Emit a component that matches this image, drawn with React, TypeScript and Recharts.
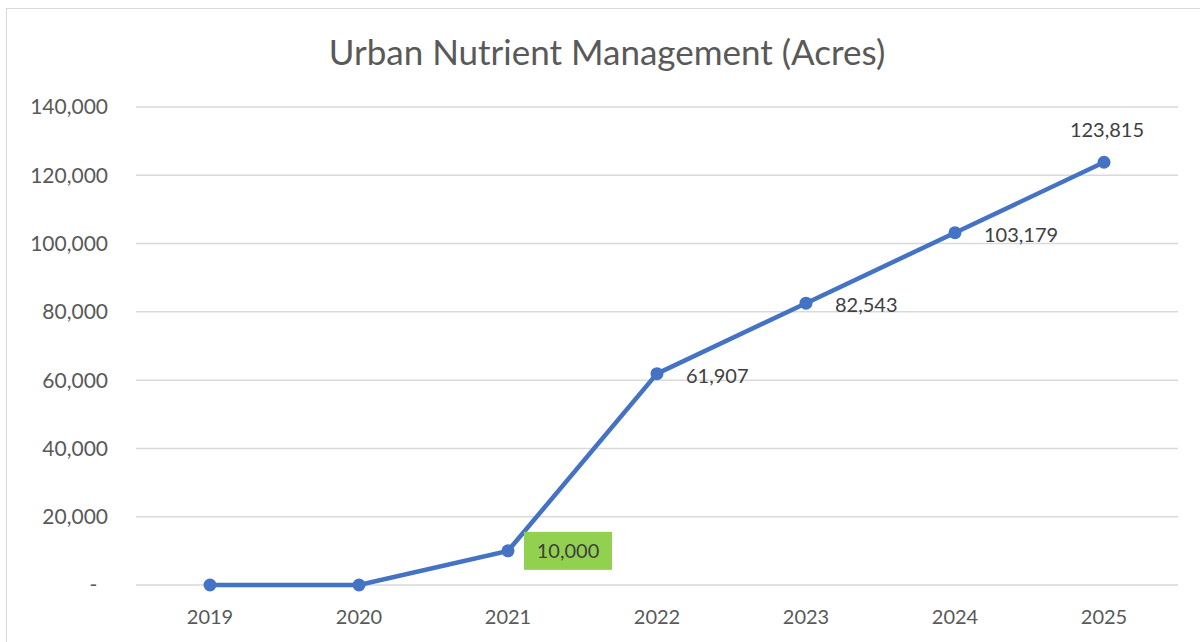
import React from 'react';
import { LineChart, Line, XAxis, YAxis, CartesianGrid, LabelList } from 'recharts';

const years = ['2019', '2020', '2021', '2022', '2023', '2024', '2025'];
const acres = [0, 0, 10000, 61907, 82543, 103179, 123815];
const yTicks = [0, 20000, 40000, 60000, 80000, 100000, 120000, 140000];

const chartData = years.map((year, i) => ({ year, acres: acres[i] }));

const FONT = 'Lato, "Open Sans", sans-serif';
const BLUE = '#4472C4';

const fmt = (v: number) => v.toLocaleString('en-US');
const fmtTick = (v: number) => (v === 0 ? '-\u00a0\u00a0' : fmt(v));

const PointLabel = (props: any) => {
  const { x, y, value, index } = props;
  if (!value) return null;
  const last = index === acres.length - 1;
  if (index === 2) {
    return (
      <g>
        <rect x={x + 16} y={y - 19} width={88} height={38} fill="#92D050" />
        <text x={x + 60} y={y + 7} textAnchor="middle" fontSize={20} fontFamily={FONT} fill="#404040">
          {fmt(value)}
        </text>
      </g>
    );
  }
  if (last) {
    return (
      <text x={x + 3} y={y - 25} textAnchor="middle" fontSize={20} fontFamily={FONT} fill="#404040">
        {fmt(value)}
      </text>
    );
  }
  return (
    <text x={x + 29} y={y + 9} textAnchor="start" fontSize={20} fontFamily={FONT} fill="#404040">
      {fmt(value)}
    </text>
  );
};

export default function App() {
  return (
    <div style={{ position: 'absolute', left: 0, top: 0, width: 1200, height: 642, overflow: 'hidden', background: '#fff' }}>
      <div
        style={{
          position: 'absolute',
          left: 6,
          top: 8,
          width: 1300,
          height: 700,
          border: '1.5px solid #d9d9d9',
        }}
      />
      <svg style={{ position: 'absolute', left: 0, top: 0 }} width={1200} height={100}>
        <text x={607} y={65} textAnchor="middle" fontSize={35} fontFamily={FONT} fill="#595959">
          Urban Nutrient Management (Acres)
        </text>
      </svg>
      <div style={{ position: 'absolute', left: 0, top: 0 }}>
        <LineChart width={1200} height={642} data={chartData} margin={{ top: 107, right: 22, bottom: 0, left: 0 }}>
          <CartesianGrid horizontal vertical={false} stroke="#d9d9d9" strokeWidth={1.5} />
          <XAxis
            dataKey="year"
            padding={{ left: 74, right: 74 }}
            axisLine={false}
            tickLine={false}
            height={57}
            tickMargin={19}
            tick={{ fontSize: 20, fontFamily: FONT, fill: '#595959' }}
          />
          <YAxis
            domain={[0, 140000]}
            ticks={yTicks}
            width={136}
            axisLine={false}
            tickLine={false}
            tickMargin={22}
            tickFormatter={fmtTick}
            tick={{ fontSize: 21, fontFamily: FONT, fill: '#595959' }}
          />
          <Line
            type="linear"
            dataKey="acres"
            stroke={BLUE}
            strokeWidth={4.5}
            dot={{ r: 6.5, fill: BLUE, stroke: BLUE, strokeWidth: 0 }}
            activeDot={false}
            isAnimationActive={false}
          >
            <LabelList dataKey="acres" content={<PointLabel />} />
          </Line>
        </LineChart>
      </div>
    </div>
  );
}
